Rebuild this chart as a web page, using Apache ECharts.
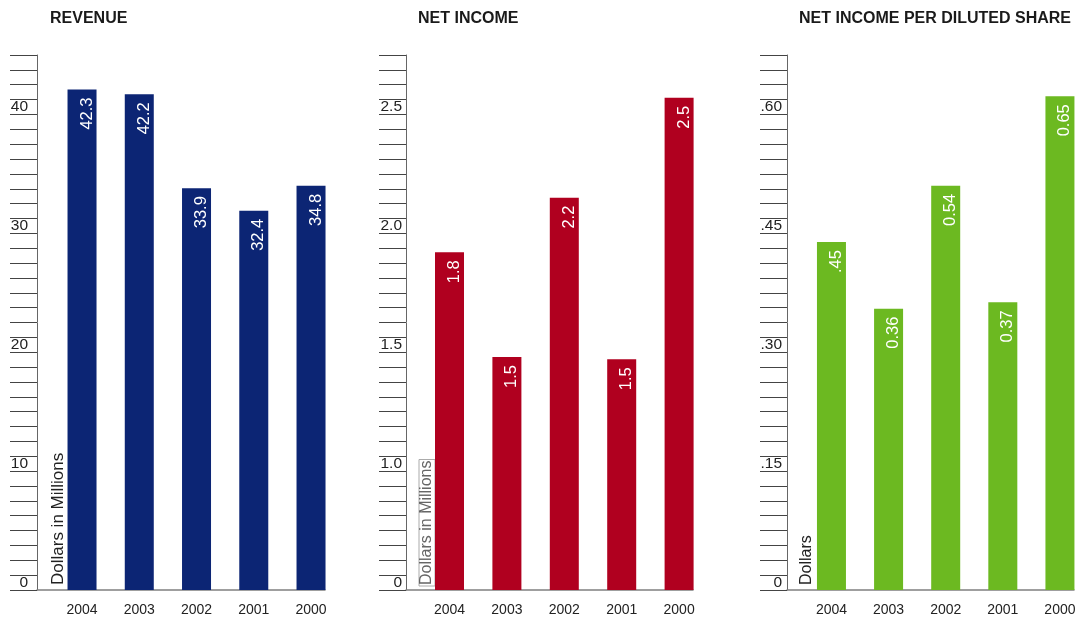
<!DOCTYPE html>
<html>
<head>
<meta charset="utf-8">
<title>Financial Highlights</title>
<script src="https://cdn.jsdelivr.net/npm/echarts@6/dist/echarts.min.js"></script>
<style>
  html, body { margin: 0; padding: 0; background: #fff; }
  #chart { width: 1084px; height: 617px; }
</style>
</head>
<body>
<div id="chart"></div>
<script>
const years = ['2004', '2003', '2002', '2001', '2000'];

const revenue = [42.1, 41.7, 33.8, 31.9, 34.0];
const revenueLabels = ['42.3', '42.2', '33.9', '32.4', '34.8'];
const netIncome = [1.92, 1.48, 2.15, 1.47, 2.57];
const netIncomeLabels = ['1.8', '1.5', '2.2', '1.5', '2.5'];
const perShare = [0.439, 0.355, 0.51, 0.363, 0.623];
const perShareLabels = ['.45', '0.36', '0.54', '0.37', '0.65'];

// labelled ticks (the net income axis is broken: its bottom "0" sits where 0.5 would be)
const revenueTickValues = [0, 10, 20, 30, 40];
const revenueTickLabels = ['0', '10', '20', '30', '40'];
const netIncomeTickValues = [0.5, 1.0, 1.5, 2.0, 2.5];
const netIncomeTickLabels = ['0', '1.0', '1.5', '2.0', '2.5'];
const perShareTickValues = [0, 0.15, 0.30, 0.45, 0.60];
const perShareTickLabels = ['0', '.15', '.30', '.45', '.60'];

const FONT = '"Liberation Sans", Arial, Helvetica, sans-serif';

const panels = [
  {
    title: 'REVENUE', titleLeft: 50,
    frame: { left: 37, width: 288 }, bars: { left: 53.4, width: 286.25 },
    min: 0, max: 45, step: 1.25, labelMargin: 9,
    tickValues: revenueTickValues, tickLabels: revenueTickLabels,
    values: revenue, labels: revenueLabels, color: '#0c2574'
  },
  {
    title: 'NET INCOME', titleLeft: 418,
    frame: { left: 406, width: 287 }, bars: { left: 420.8, width: 287 },
    min: 0.5, max: 2.75, step: 0.0625, labelMargin: 4,
    tickValues: netIncomeTickValues, tickLabels: netIncomeTickLabels,
    values: netIncome, labels: netIncomeLabels, color: '#b0001f'
  },
  {
    title: 'NET INCOME PER DILUTED SHARE', titleLeft: 799,
    frame: { left: 787, width: 287 }, bars: { left: 802.9, width: 285.6 },
    min: 0, max: 0.675, step: 0.01875, labelMargin: 5,
    tickValues: perShareTickValues, tickLabels: perShareTickLabels,
    values: perShare, labels: perShareLabels, color: '#6cb921'
  }
];

const chart = echarts.init(document.getElementById('chart'));

const option = {
  backgroundColor: '#fff',
  animation: false,
  title: [],
  grid: [],
  xAxis: [],
  yAxis: [],
  series: [],
  graphic: [
    {
      type: 'text', x: 58.5, y: 585, rotation: Math.PI / 2,
      style: { text: 'Dollars in Millions', fontSize: 17, fontFamily: FONT, fill: '#222', align: 'left', verticalAlign: 'middle' }
    },
    {
      type: 'text', x: 427, y: 586, rotation: Math.PI / 2,
      style: {
        text: 'Dollars in Millions', fontSize: 16, fontFamily: FONT, fill: '#666', align: 'left', verticalAlign: 'middle',
        borderColor: '#aaa', borderWidth: 1, padding: [0, 1, 0, 1]
      }
    },
    {
      type: 'text', x: 806.5, y: 585, rotation: Math.PI / 2,
      style: { text: 'Dollars', fontSize: 16, fontFamily: FONT, fill: '#222', align: 'left', verticalAlign: 'middle' }
    }
  ]
};

panels.forEach((p, i) => {
  const gFrame = i * 2;
  const gBars = i * 2 + 1;

  option.title.push({
    text: p.title, left: p.titleLeft, top: 11, padding: 0,
    textStyle: { fontSize: 16, fontWeight: 'bold', color: '#1a1a1a', fontFamily: FONT }
  });

  // frame: ruler axis on the left and the baseline
  option.grid.push({ left: p.frame.left, width: p.frame.width, top: 55, height: 535, containLabel: false, outerBoundsMode: 'none' });
  // bars sit in their own grid so they line up with the year labels
  option.grid.push({ left: p.bars.left, width: p.bars.width, top: 55, height: 535, containLabel: false, outerBoundsMode: 'none' });

  option.xAxis.push({
    gridIndex: gFrame, type: 'value', min: 0, max: 1,
    axisLine: { show: true, onZero: false, lineStyle: { color: '#808080', width: 1.5 } },
    axisTick: { show: false }, axisLabel: { show: false }, splitLine: { show: false }
  });
  option.xAxis.push({
    gridIndex: gBars, type: 'category', data: years,
    axisLine: { show: false }, axisTick: { show: false },
    axisLabel: { margin: 13, fontSize: 14, color: '#222', fontFamily: FONT }
  });

  option.yAxis.push({
    gridIndex: gFrame, type: 'value', min: p.min, max: p.max, interval: p.step,
    axisLine: { show: true, onZero: false, lineStyle: { color: '#666', width: 1 } },
    axisTick: { show: true, length: 27, lineStyle: { color: '#444', width: 1 } },
    splitLine: { show: false },
    axisLabel: {
      margin: p.labelMargin, fontSize: 15.5, color: '#222', fontFamily: FONT,
      verticalAlign: 'bottom', lineHeight: 15,
      formatter: v => {
        const k = p.tickValues.findIndex(t => Math.abs(t - v) < p.step / 10);
        return k >= 0 ? p.tickLabels[k] : '';
      }
    }
  });
  option.yAxis.push({
    gridIndex: gBars, type: 'value', min: p.min, max: p.max, show: false
  });

  option.series.push({
    type: 'bar', xAxisIndex: gBars, yAxisIndex: gBars,
    data: p.values, barWidth: 29, clip: true,
    itemStyle: { color: p.color },
    label: {
      show: true, position: 'insideTop', rotate: 90, align: 'right', verticalAlign: 'middle',
      distance: 8, offset: [0, 5], color: '#fff', fontSize: 16.5, fontFamily: FONT,
      formatter: params => p.labels[params.dataIndex]
    }
  });
});

chart.setOption(option);
</script>
</body>
</html>
